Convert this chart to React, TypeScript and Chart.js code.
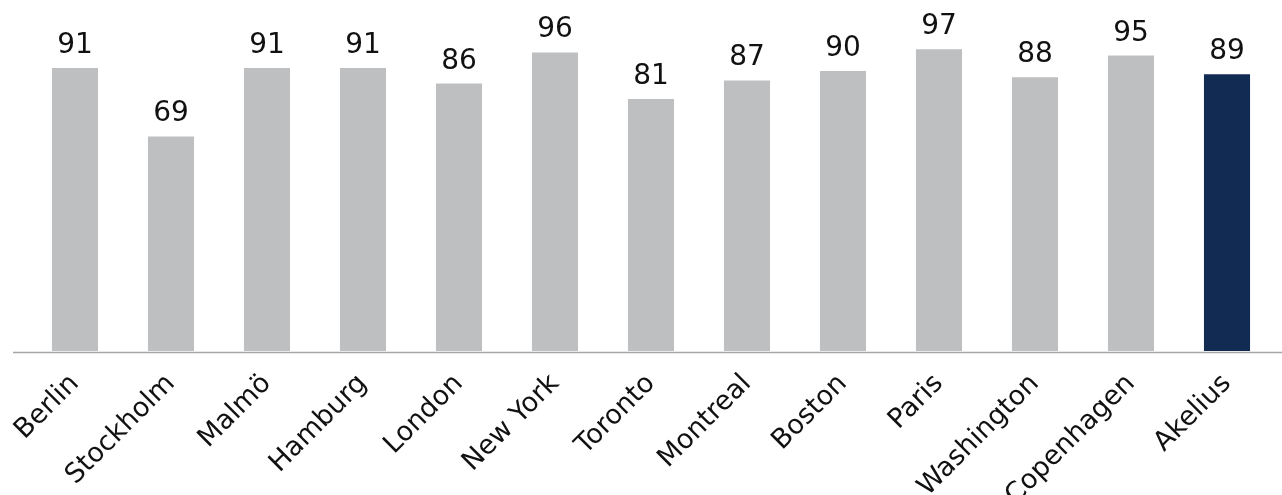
import React, { useEffect, useRef } from "react";
import { Chart, registerables } from "chart.js";

Chart.register(...registerables);

const categories = ["Berlin", "Stockholm", "Malmö", "Hamburg", "London", "New York", "Toronto", "Montreal", "Boston", "Paris", "Washington", "Copenhagen", "Akelius"];
const values = [91, 69, 91, 91, 86, 96, 81, 87, 90, 97, 88, 95, 89];
const highlight = "Akelius";

const GRAY = "#BEBFC1";
const NAVY = "#112B52";
const FONT = "'DejaVu Sans', Verdana, sans-serif";

const labelPlugin = {
  id: "valueLabels",
  afterDatasetsDraw(chart: any) {
    const ctx = chart.ctx;
    const meta = chart.getDatasetMeta(0);
    ctx.save();
    ctx.font = `28px ${FONT}`;
    ctx.fillStyle = "#111111";
    ctx.textAlign = "center";
    ctx.textBaseline = "alphabetic";
    meta.data.forEach((bar: any, i: number) => {
      ctx.fillText(String(values[i]), bar.x, bar.y - 15);
    });
    ctx.restore();
  },
};

const axisLinePlugin = {
  id: "axisLine",
  afterDatasetsDraw(chart: any) {
    const ctx = chart.ctx;
    const y = Math.round(chart.scales.y.getPixelForValue(0)) + 1.5;
    ctx.save();
    ctx.strokeStyle = "#A6A6A6";
    ctx.lineWidth = 1.5;
    ctx.beginPath();
    ctx.moveTo(13, y);
    ctx.lineTo(chart.width, y);
    ctx.stroke();
    ctx.restore();
  },
};

export default function App() {
  const ref = useRef<HTMLCanvasElement>(null);
  useEffect(() => {
    document.body.style.margin = "0";
    const chart = new Chart(ref.current as HTMLCanvasElement, {
      type: "bar",
      data: {
        labels: categories,
        datasets: [
          {
            data: values,
            backgroundColor: categories.map((c) => (c === highlight ? NAVY : GRAY)),
            categoryPercentage: 1,
            barPercentage: 0.48,
          },
        ],
      },
      options: {
        animation: false,
        responsive: false,
        maintainAspectRatio: false,
        layout: { padding: { left: 27, right: 7, top: 40, bottom: 0 } },
        plugins: { legend: { display: false }, tooltip: { enabled: false } },
        scales: {
          x: {
            grid: { display: false },
            border: { display: false },
            ticks: {
              color: "#111111",
              font: { family: FONT, size: 27 },
              minRotation: 45,
              maxRotation: 45,
              padding: 9,
              autoSkip: false,
            },
            afterFit(scale: any) {
              scale.height = 144;
              scale.paddingLeft = 0;
              scale.paddingRight = 0;
            },
          },
          y: {
            display: false,
            min: 0,
            max: 100,
          },
        },
      },
      plugins: [labelPlugin, axisLinePlugin],
    } as any);
    return () => chart.destroy();
  }, []);
  return (
    <div style={{ width: 1282, height: 495 }}>
      <canvas ref={ref} width={1282} height={495} style={{ display: "block" }} />
    </div>
  );
}
